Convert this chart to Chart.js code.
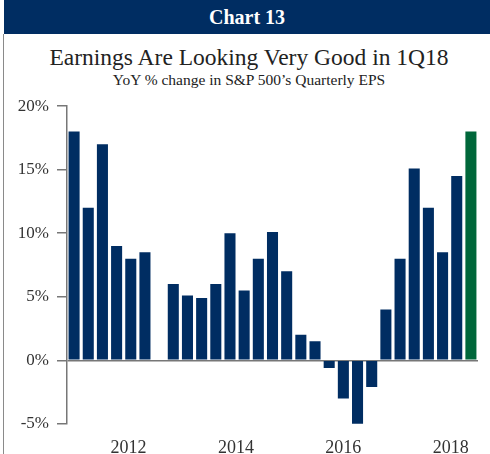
<!DOCTYPE html>
<html>
<head>
<meta charset="utf-8">
<script src="https://cdn.jsdelivr.net/npm/chart.js@4"></script>
<style>
  html, body { margin: 0; padding: 0; background: #fff; }
  body { width: 490px; height: 454px; position: relative; overflow: hidden; font-family: "Liberation Serif", "DejaVu Serif", serif; }
  #hdr { position: absolute; left: 4px; top: 0; width: 486px; height: 34px; background: #002D62; color: #fff;
         font-weight: bold; font-size: 20px; line-height: 34px; text-align: center; }
  #lborder { position: absolute; left: 3px; top: 34px; width: 1px; height: 420px; background: #8a8a8a; }
  #title { position: absolute; left: 6px; width: 486px; top: 44px; text-align: center; font-size: 23.5px; color: #222; line-height: 26px; }
  #sub { position: absolute; left: 6px; width: 486px; top: 71px; text-align: center; font-size: 15.5px; color: #222; line-height: 18px; }
  #wrap { position: absolute; left: 5px; top: 87.5px; width: 485px; height: 366.5px; }
</style>
</head>
<body>
<div id="hdr">Chart 13</div>
<div id="lborder"></div>
<div id="title">Earnings Are Looking Very Good in 1Q18</div>
<div id="sub">YoY % change in S&amp;P 500’s Quarterly EPS</div>
<div id="wrap"><canvas id="c"></canvas></div>
<script>
// Quarters 1Q11 .. 1Q18
const quarters = ["1Q11","2Q11","3Q11","4Q11","1Q12","2Q12","3Q12","4Q12",
  "1Q13","2Q13","3Q13","4Q13","1Q14","2Q14","3Q14","4Q14",
  "1Q15","2Q15","3Q15","4Q15","1Q16","2Q16","3Q16","4Q16",
  "1Q17","2Q17","3Q17","4Q17","1Q18"];
const epsGrowth = [18, 12, 17, 9, 8, 8.5, null, 6,
  5.1, 4.9, 6, 10, 5.5, 8, 10.1, 7,
  2, 1.5, -0.6, -3, -5.1, -2.1, 4, 8,
  15.1, 12, 8.5, 14.5, 18];
const yearTicks = [2012, 2014, 2016, 2018];
const yTicks = [-5, 0, 5, 10, 15, 20];

const navy = "#002D62", green = "#00673A";
const barColors = epsGrowth.map((v, i) => i === epsGrowth.length - 1 ? green : navy);

new Chart(document.getElementById("c"), {
  type: "bar",
  data: {
    labels: quarters,
    datasets: [{ data: epsGrowth, backgroundColor: barColors, borderWidth: 0,
                 categoryPercentage: 1, barPercentage: 0.78, xAxisID: "x", yAxisID: "y" }]
  },
  options: {
    responsive: true, maintainAspectRatio: false, animation: false,
    layout: { padding: { top: 0, right: 12, bottom: 0, left: 0 } },
    plugins: { legend: { display: false }, tooltip: { enabled: false } },
    scales: {
      x: { type: "category", display: false, offset: true, grid: { display: false } },
      xt: {
        type: "linear", position: "bottom", min: 2010.854, max: 2018.508, offset: false,
        afterBuildTicks: (s) => { s.ticks = yearTicks.map(v => ({ value: v })); },
        afterFit: (s) => { s.height = 30.7; },
        grid: { display: false, offset: false }, border: { display: false },
        ticks: { color: "#333", font: { family: "Liberation Serif", size: 18 }, padding: 6,
                 callback: (v) => String(v), autoSkip: false, maxRotation: 0 }
      },
      y: {
        min: -5, max: 20,
        afterBuildTicks: (s) => { s.ticks = yTicks.map(v => ({ value: v })); },
        afterFit: (s) => { s.width = 62; },
        border: { display: true, color: "#777", width: 1.5 },
        grid: {
          drawOnChartArea: true, tickLength: 10, lineWidth: 1.5, tickColor: "#777",
          color: (ctx) => (ctx.tick && ctx.tick.value === 0) ? "#777" : "rgba(0,0,0,0)"
        },
        ticks: { color: "#333", padding: 8, font: { family: "Liberation Serif", size: 17 },
                 callback: (v) => v + "%" }
      }
    }
  }
});
</script>
</body>
</html>
